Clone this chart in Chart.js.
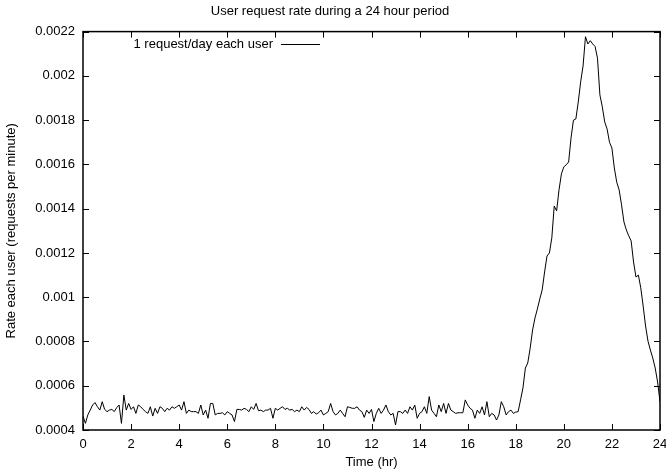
<!DOCTYPE html>
<html>
<head>
<meta charset="utf-8">
<script src="https://cdn.jsdelivr.net/npm/chart.js@4"></script>
<style>
  body { margin: 0; background: #fff; }
  #wrap { width: 666px; height: 473px; }
</style>
</head>
<body>
<div id="wrap"><canvas id="rateChart"></canvas></div>
<script>
// Request rate per user, one sample every 6 minutes (0.1 hr) from 0 to 24 hr
const rate = [
  0.000463, 0.000430, 0.000468, 0.000490, 0.000513, 0.000524, 0.000505, 0.000490, 0.000528, 0.000493,
  0.000483, 0.000490, 0.000493, 0.000483, 0.000501, 0.000513, 0.000430, 0.000558, 0.000490, 0.000520,
  0.000493, 0.000505, 0.000475, 0.000513, 0.000505, 0.000493, 0.000483, 0.000475, 0.000505, 0.000463,
  0.000498, 0.000475, 0.000505, 0.000498, 0.000483, 0.000498, 0.000490, 0.000505, 0.000498, 0.000505,
  0.000513, 0.000490, 0.000528, 0.000475, 0.000490, 0.000483, 0.000483, 0.000483, 0.000475, 0.000513,
  0.000468, 0.000490, 0.000453, 0.000520, 0.000520, 0.000468, 0.000475, 0.000475, 0.000478, 0.000468,
  0.000483, 0.000475, 0.000468, 0.000438, 0.000493, 0.000493, 0.000490, 0.000498, 0.000493, 0.000483,
  0.000505, 0.000493, 0.000520, 0.000487, 0.000490, 0.000483, 0.000490, 0.000490, 0.000498, 0.000453,
  0.000498, 0.000490, 0.000498, 0.000505, 0.000493, 0.000498, 0.000490, 0.000493, 0.000483, 0.000490,
  0.000483, 0.000505, 0.000490, 0.000502, 0.000493, 0.000475, 0.000483, 0.000472, 0.000478, 0.000490,
  0.000468, 0.000475, 0.000483, 0.000520, 0.000483, 0.000468, 0.000475, 0.000490, 0.000475, 0.000460,
  0.000505, 0.000502, 0.000498, 0.000498, 0.000505, 0.000490, 0.000483, 0.000457, 0.000490, 0.000475,
  0.000493, 0.000438, 0.000475, 0.000498, 0.000475, 0.000490, 0.000513, 0.000483, 0.000468, 0.000475,
  0.000423, 0.000483, 0.000483, 0.000475, 0.000490, 0.000475, 0.000505, 0.000490, 0.000513, 0.000453,
  0.000475, 0.000483, 0.000505, 0.000475, 0.000551, 0.000490, 0.000475, 0.000460, 0.000513, 0.000483,
  0.000520, 0.000475, 0.000520, 0.000490, 0.000483, 0.000475, 0.000478, 0.000478, 0.000478, 0.000536,
  0.000513, 0.000498, 0.000490, 0.000453, 0.000490, 0.000475, 0.000505, 0.000468, 0.000528, 0.000460,
  0.000475, 0.000468, 0.000445, 0.000468, 0.000528, 0.000505, 0.000468, 0.000483, 0.000490, 0.000475,
  0.000481, 0.000483, 0.000536, 0.000590, 0.000680, 0.000703, 0.000770, 0.000852, 0.000906, 0.000947,
  0.000992, 0.001033, 0.001114, 0.001186, 0.001200, 0.001268, 0.001412, 0.001390, 0.001485, 0.001557,
  0.001589, 0.001598, 0.001611, 0.001720, 0.001800, 0.001805, 0.001882, 0.001973, 0.002045, 0.002177,
  0.002144, 0.002159, 0.002144, 0.002133, 0.002080, 0.001914, 0.001860, 0.001792, 0.001760, 0.001700,
  0.001674, 0.001584, 0.001520, 0.001485, 0.001417, 0.001340, 0.001304, 0.001277, 0.001254, 0.001159,
  0.001091, 0.001100, 0.001042, 0.000960, 0.000870, 0.000802, 0.000761, 0.000725, 0.000680, 0.000617,
  0.000527
];
const hours = rate.map((_, i) => i / 10);

const xTicks = [0, 2, 4, 6, 8, 10, 12, 14, 16, 18, 20, 22, 24];
const yTicks = [0.0004, 0.0006, 0.0008, 0.001, 0.0012, 0.0014, 0.0016, 0.0018, 0.002, 0.0022];
const seriesLabel = '1 request/day each user';

const FONT = { family: '"Liberation Sans", Arial, Helvetica, sans-serif', size: 13 };
const TICK_LEN = 6;

// gnuplot style frame: box border, ticks pointing inward on all four sides, key in the top left
const framePlugin = {
  id: 'frame',
  afterDatasetsDraw(chart) {
    const { ctx, chartArea: a, scales } = chart;
    ctx.save();
    ctx.strokeStyle = '#000';
    ctx.lineWidth = 1;
    ctx.beginPath();
    xTicks.forEach(v => {
      const px = Math.round(scales.x.getPixelForValue(v)) + 0.5;
      ctx.moveTo(px, a.bottom); ctx.lineTo(px, a.bottom - TICK_LEN);
      ctx.moveTo(px, a.top); ctx.lineTo(px, a.top + TICK_LEN);
    });
    yTicks.forEach(v => {
      const py = Math.round(scales.y.getPixelForValue(v)) + 0.5;
      ctx.moveTo(a.left, py); ctx.lineTo(a.left + TICK_LEN, py);
      ctx.moveTo(a.right, py); ctx.lineTo(a.right - TICK_LEN, py);
    });
    ctx.stroke();
    ctx.lineWidth = 1.5;
    ctx.strokeRect(a.left, a.top, a.right - a.left, a.bottom - a.top);

    // key: label text right aligned, then a short line sample
    const ds = chart.data.datasets[0];
    ctx.font = FONT.size + 'px ' + FONT.family;
    ctx.fillStyle = '#000';
    ctx.textAlign = 'right';
    ctx.textBaseline = 'middle';
    ctx.fillText(ds.label, 273, 44);
    ctx.lineWidth = 1;
    ctx.strokeStyle = ds.borderColor;
    ctx.beginPath();
    ctx.moveTo(281, 44.5); ctx.lineTo(320, 44.5);
    ctx.stroke();
    ctx.restore();
  }
};

new Chart(document.getElementById('rateChart'), {
  type: 'line',
  data: {
    datasets: [{
      label: seriesLabel,
      data: hours.map((h, i) => ({ x: h, y: rate[i] })),
      borderColor: '#000',
      borderWidth: 1,
      pointRadius: 0,
      tension: 0,
      fill: false
    }]
  },
  options: {
    responsive: true,
    maintainAspectRatio: false,
    devicePixelRatio: 1,
    animation: false,
    layout: { padding: { left: 0, right: 6, top: 0, bottom: 0 } },
    plugins: {
      legend: { display: false },
      tooltip: { enabled: false },
      title: {
        display: true,
        text: 'User request rate during a 24 hour period',
        color: '#000',
        font: { ...FONT, weight: 'normal' },
        padding: { top: 4, bottom: 12 }
      }
    },
    scales: {
      x: {
        type: 'linear',
        min: 0,
        max: 24,
        afterBuildTicks: s => { s.ticks = xTicks.map(v => ({ value: v })); },
        afterFit: s => { s.height = 43; s.paddingLeft = 0; s.paddingRight = 0; },
        grid: { display: false, drawTicks: false },
        border: { display: false },
        ticks: { color: '#000', font: FONT, padding: 7, maxRotation: 0 },
        title: {
          display: true,
          text: 'Time (hr)',
          color: '#000',
          font: FONT,
          padding: { top: 0, bottom: 3 }
        }
      },
      y: {
        min: 0.0004,
        max: 0.0022,
        afterBuildTicks: s => { s.ticks = yTicks.map(v => ({ value: v })); },
        afterFit: s => { s.width = 83; s.paddingTop = 0; s.paddingBottom = 0; },
        grid: { display: false, drawTicks: false },
        border: { display: false },
        ticks: {
          color: '#000',
          font: FONT,
          padding: 8,
          callback: v => String(Number(v.toPrecision(6)))
        },
        title: {
          display: true,
          text: 'Rate each user (requests per minute)',
          color: '#000',
          font: FONT,
          padding: { top: 4, bottom: 0 }
        }
      }
    }
  },
  plugins: [framePlugin]
});
</script>
</body>
</html>
